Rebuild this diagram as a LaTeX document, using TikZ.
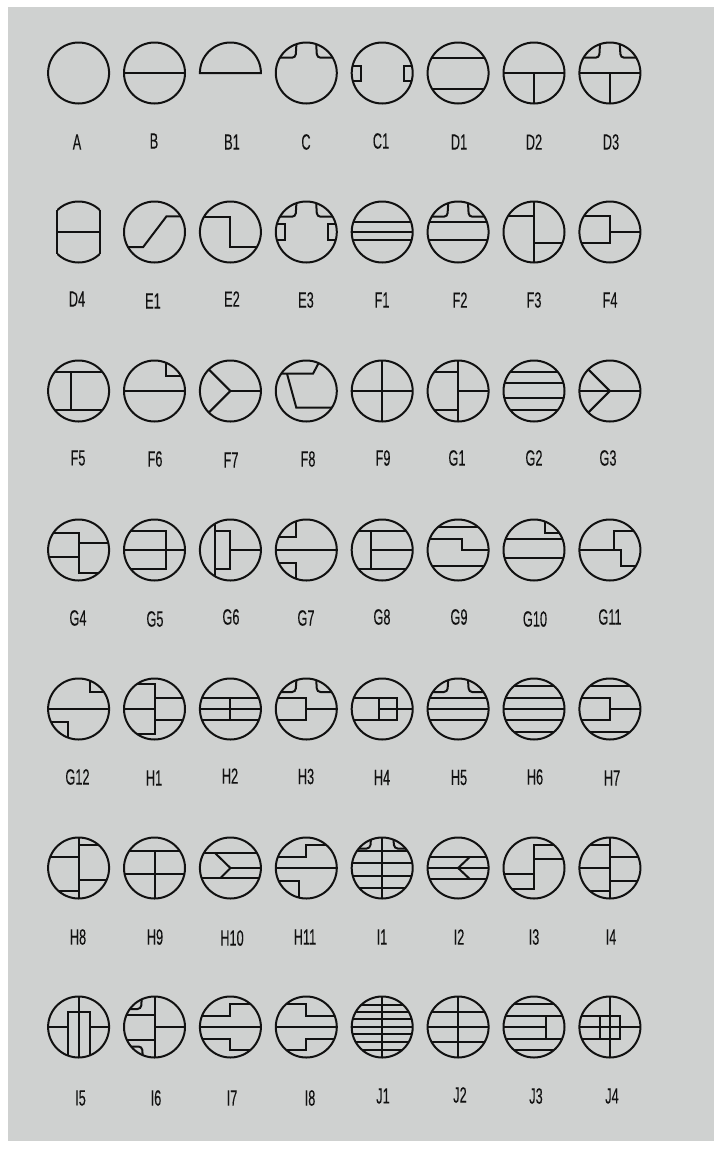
\documentclass[tikz,border=0pt]{standalone}
\usepackage{fontspec}
\setmainfont[FakeStretch=0.58,FakeBold=0.15]{Liberation Sans}
\definecolor{panel}{HTML}{CFD1D0}
\definecolor{ink}{HTML}{111111}
\tikzset{
  glyph/.style={draw=ink,line width=2pt,line join=miter},
  caption/.style={text=ink,inner sep=0pt,font=\fontsize{22}{22}\selectfont}
}
% one symbol: column, row, interior drawing (clipped by its circle)
\newcommand{\sym}[3]{%
  \begin{scope}[shift={({78.6+75.9*#1},{73+159*#2})}]
    \begin{scope}\clip (0,0) circle (30.5);#3\end{scope}
    \draw[glyph] (0,0) circle (30.5);
  \end{scope}}
\newcommand{\hl}[1]{\pgfmathsetmacro\snapv{round(#1)}\draw[glyph] (-32,\snapv)--(32,\snapv);}
\newcommand{\hL}[1]{\pgfmathsetmacro\snapv{round(#1)}\draw[glyph] (-32,\snapv)--(0,\snapv);}
\newcommand{\hR}[1]{\pgfmathsetmacro\snapv{round(#1)}\draw[glyph] (0,\snapv)--(32,\snapv);}
\newcommand{\vl}[1]{\draw[glyph] (#1,-32)--(#1,32);}
\newcommand{\notch}[2]{\draw[glyph,rounded corners=3.5pt] (-#1+1,-32)--(-#1,-#2)--(-32,-#2);
  \draw[glyph,rounded corners=3.5pt] (#1-1,-32)--(#1,-#2)--(32,-#2);}
\newcommand{\sides}[1]{\draw[glyph] (-32,-#1)-|(-21.4,#1)--(-32,#1);
  \draw[glyph] (32,-#1)-|(21.4,#1)--(32,#1);}
\newcommand{\lab}[3]{\node[caption] (l#1) at (#2,#3) {#1};}
\begin{document}
\begin{tikzpicture}[x=1pt,y=-1pt]
\useasboundingbox (0,0) rectangle (719,1149);
\fill[panel] (8,7) rectangle (714,1141);
% row 1
\sym{0}{0}{}
\sym{1}{0}{\hl{0}}
\begin{scope}[shift={({78.6+75.9*2},73)}]
  \draw[glyph] (-30.5,0) arc[start angle=180,end angle=360,radius=30.5]--cycle;
\end{scope}
\sym{3}{0}{\notch{10.7}{15.3}}
\sym{4}{0}{\sides{7.5}}
\sym{5}{0}{\hl{-15.3}\hl{15.5}}
\sym{6}{0}{\hl{0}\draw[glyph] (0,0)--(0,32);}
\sym{7}{0}{\notch{10.7}{15.3}\hl{0}\draw[glyph] (0,0)--(0,32);}
% row 2
\begin{scope}[shift={(78.6,232)}]
  \begin{scope}\clip (-21.4,-40) rectangle (21.4,40);
    \draw[glyph] (0,0) circle (30.5);
  \end{scope}
  \draw[glyph] (-21.4,-21.7)--(-21.4,21.7) (21.4,-21.7)--(21.4,21.7) (-21.4,0)--(21.4,0);
\end{scope}
\sym{1}{1}{\draw[glyph] (-32,15)--(-11.3,15)--(12,-15.7)--(32,-15.7);}
\sym{2}{1}{\draw[glyph] (-32,-15.3)--(0,-15.3)--(0,15)--(32,15);}
\sym{3}{1}{\notch{10.7}{15.3}\sides{8}}
\sym{4}{1}{\hl{-9.7}\hl{0}\hl{7.7}}
\sym{5}{1}{\notch{10.7}{15.3}\hl{-9.7}\hl{7.7}}
\sym{6}{1}{\vl{0}\draw[glyph] (-32,-15.7)--(0,-15.7) (0,11)--(32,11);}
\sym{7}{1}{\draw[glyph] (-32,-15.7)-|(0,11)--(-32,11);\hR{0}}
% row 3
\sym{0}{2}{\hl{-19.3}\hl{19}\draw[glyph] (-7.3,-19.3)--(-7.3,19);}
\sym{1}{2}{\hl{0}\draw[glyph] (11,-32)--(11,-15)--(32,-15);}
\sym{2}{2}{\hR{0}\draw[glyph] (-32,-32)--(0,0)--(-32,32);}
\sym{3}{2}{\draw[glyph] (-32,-17.3)--(6.7,-17.3)--(14.5,-32);\draw[glyph] (-19.3,-17.3)--(-10,16.7)--(32,16.7);}
\sym{4}{2}{\hl{0}\vl{0}}
\sym{5}{2}{\vl{0}\hR{0}\hL{-19.3}\hL{19}}
\sym{6}{2}{\hl{-19.3}\hl{-7.7}\hl{7.3}\hl{19.3}}
\sym{7}{2}{\hl{0}\draw[glyph] (-32,-32)--(0,0)--(-32,32);}
% row 4
\sym{0}{3}{\draw[glyph] (-32,-17)-|(0,23.3)--(32,23.3);\hL{7.3}\hR{-7.3}}
\sym{1}{3}{\hl{0}\draw[glyph] (-32,-18.7)-|(11,19.3)--(-32,19.3);}
\sym{2}{3}{\vl{-15.3}\draw[glyph] (-15.3,-18.7)-|(0,19.3)--(-15.3,19.3);\hR{0}}
\sym{3}{3}{\hl{0}\draw[glyph] (-32,-13)-|(-10.7,-32);\draw[glyph] (-32,13)-|(-10.7,32);}
\sym{4}{3}{\hl{-18.7}\hl{19.3}\draw[glyph] (-11.3,-18.7)--(-11.3,19.3) (-11.3,0)--(32,0);}
\sym{5}{3}{\hl{-22.7}\hl{15.7}\draw[glyph] (-32,-11.3)-|(3.7,0)--(32,0);}
\sym{6}{3}{\hl{-11.3}\hl{7.7}\draw[glyph] (11.3,-32)--(11.3,-16.7)--(32,-16.7);}
\sym{7}{3}{\draw[glyph] (-32,0)-|(4,-18.7)--(32,-18.7);\draw[glyph] (4,0)-|(11.3,15.7)--(32,15.7);}
% row 5
\sym{0}{4}{\hl{0}\draw[glyph] (11,-32)--(11,-16.7)--(32,-16.7);\draw[glyph] (-32,13)-|(-11,32);}
\sym{1}{4}{\draw[glyph] (-32,-24.7)-|(0,24.7)--(-32,24.7);\hL{0}\hR{-11.3}\hR{11.3}}
\sym{2}{4}{\hl{-11.3}\hl{0}\hl{11.3}\draw[glyph] (0,-11.3)--(0,11.3);}
\sym{3}{4}{\notch{10.7}{17}\draw[glyph] (-32,-11.3)-|(0,11.3)--(-32,11.3);\hR{0}}
\sym{4}{4}{\draw[glyph] (-32,-11.3)-|(15,11.3)--(-32,11.3);\draw[glyph] (-3,-11.3)--(-3,11.3) (-3,0)--(32,0);}
\sym{5}{4}{\notch{10.7}{17}\hl{-11.3}\hl{0}\hl{11.3}}
\sym{6}{4}{\hl{-23}\hl{-11.3}\hl{0}\hl{11.3}\hl{22.7}}
\sym{7}{4}{\hl{-23}\hl{22.7}\draw[glyph] (-32,-11.3)-|(0,11.3)--(-32,11.3);\hR{0}}
% row 6
\sym{0}{5}{\vl{0}\hL{-11.3}\hL{22.7}\hR{-22.7}\hR{11.7}}
\sym{1}{5}{\hl{-17}\hl{5.7}\draw[glyph] (0,-17)--(0,32);}
\sym{2}{5}{\hl{-15.3}\hl{9.7}\draw[glyph] (-15.7,-15.3)--(0,0)--(-9.7,9.7);\hR{0}}
\sym{3}{5}{\hl{0}\draw[glyph] (-32,-11.3)-|(0,-22.7)--(32,-22.7);\draw[glyph] (-32,13)-|(-7,32);}
\sym{4}{5}{\notch{12}{19.5}\vl{0}\hl{-16.5}\hl{-5.3}\hl{8}\hl{19.7}}
\sym{5}{5}{\hl{-11.3}\hl{0}\hl{11.3}\draw[glyph] (12,-11.3)--(0,0)--(12,11.3);}
\sym{6}{5}{\draw[glyph] (-32,5.7)--(0,5.7);\draw[glyph] (32,-22.7)-|(0,21)--(-32,21);\hR{-9.3}}
\sym{7}{5}{\vl{0}\hL{0}\hL{-22.7}\hL{22.7}\hR{-11.3}\hR{13.3}}
% row 7
\sym{0}{6}{\vl{0}\draw[glyph] (-11,32)|-(11.5,-14.7)--(11.5,32);\draw[glyph] (-32,0)--(-11,0) (11.5,0)--(32,0);}
\sym{1}{6}{\vl{0}\hR{0}\hL{-11.7}\hL{13.3}
  \draw[glyph,rounded corners=3.5pt] (-12.5,-32)--(-13.5,-18)--(-32,-18);
  \draw[glyph,rounded corners=3.5pt] (-11.5,32)--(-12.5,19.5)--(-32,19.5);}
\sym{2}{6}{\hl{0}\draw[glyph] (-32,-11)-|(0,-22.7)--(32,-22.7);\draw[glyph] (-32,11.7)-|(0,23.3)--(32,23.3);}
\sym{3}{6}{\hl{0}\draw[glyph] (-32,-22.7)-|(0,-11)--(32,-11);\draw[glyph] (-32,23.3)-|(0,11.7)--(32,11.7);}
\sym{4}{6}{\vl{0}\hl{-22}\hl{-14.5}\hl{-7.5}\hl{0}\hl{7}\hl{14.5}\hl{23}}
\sym{5}{6}{\vl{0}\hl{-15}\hl{0}\hl{15}}
\sym{6}{6}{\hl{-22.7}\hl{-11}\hl{11.7}\hl{23.3}\draw[glyph] (-32,0)--(11.5,0) (11.5,-11)--(11.5,11.7);}
\sym{7}{6}{\vl{0}\hl{0}\draw[glyph] (-32,-11)-|(10,11.7)--(-32,11.7);\draw[glyph] (-9.7,-11)--(-9.7,11.7);}
% captions
\lab{A}{77}{142}\lab{B}{154}{141}\lab{B1}{232}{142}\lab{C}{306}{142}
\lab{C1}{381}{141}\lab{D1}{459}{142}\lab{D2}{534}{142}\lab{D3}{611}{142}
\lab{D4}{77}{299}\lab{E1}{153}{301}\lab{E2}{232}{299}\lab{E3}{306}{300}
\lab{F1}{382}{300}\lab{F2}{460}{300}\lab{F3}{534}{300}\lab{F4}{610}{300}
\lab{F5}{78}{458}\lab{F6}{155}{459}\lab{F7}{231}{460}\lab{F8}{308}{459}
\lab{F9}{383}{458}\lab{G1}{457}{458}\lab{G2}{534}{458}\lab{G3}{608}{458}
\lab{G4}{78}{618}\lab{G5}{155}{619}\lab{G6}{231}{617}\lab{G7}{306}{618}
\lab{G8}{382}{617}\lab{G9}{459}{617}\lab{G10}{535}{619}\lab{G11}{610}{617}
\lab{G12}{77.5}{777}\lab{H1}{154}{778}\lab{H2}{230}{776}\lab{H3}{306}{776.5}
\lab{H4}{382}{777.5}\lab{H5}{459}{777.5}\lab{H6}{535}{777}\lab{H7}{612}{778}
\lab{H8}{78}{937}\lab{H9}{155}{937}\lab{H10}{232}{938}\lab{H11}{305}{937}
\lab{I1}{382}{937}\lab{I2}{459}{937}\lab{I3}{534}{937}\lab{I4}{611}{937}
\lab{I5}{80.5}{1098}\lab{I6}{156}{1098}\lab{I7}{232}{1098}\lab{I8}{310}{1098}
\lab{J1}{383}{1096}\lab{J2}{460}{1095}\lab{J3}{536}{1096}\lab{J4}{612}{1096}
\end{tikzpicture}
\end{document}
